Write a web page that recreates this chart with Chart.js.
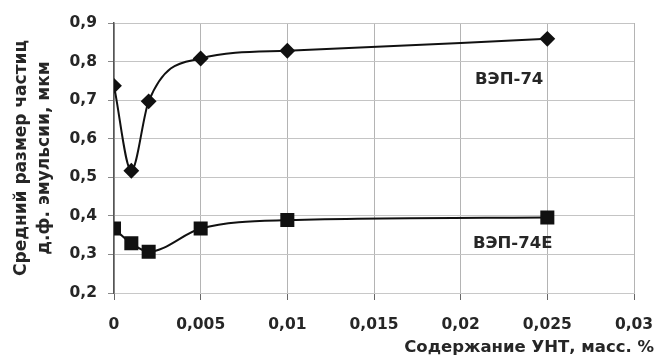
<!DOCTYPE html>
<html>
<head>
<meta charset="utf-8">
<script src="https://cdn.jsdelivr.net/npm/chart.js@4"></script>
<style>
  html, body { margin: 0; padding: 0; background: #fff; }
  #wrap { width: 656px; height: 356px; }
</style>
</head>
<body>
<div id="wrap"><canvas id="chart"></canvas></div>
<script>
// Data
const concentration = [0, 0.001, 0.002, 0.005, 0.01, 0.025];
const vep74 = [0.737, 0.517, 0.697, 0.808, 0.828, 0.859];
const vep74e = [0.367, 0.329, 0.307, 0.367, 0.389, 0.396];

const xTicks = [0, 0.005, 0.01, 0.015, 0.02, 0.025, 0.03];
const xTickLabels = ['0', '0,005', '0,01', '0,015', '0,02', '0,025', '0,03'];
const yTicks = [0.2, 0.3, 0.4, 0.5, 0.6, 0.7, 0.8, 0.9];
const yTickLabels = ['0,2', '0,3', '0,4', '0,5', '0,6', '0,7', '0,8', '0,9'];

const seriesNames = ['ВЭП-74', 'ВЭП-74Е'];
// label anchor points in data units [x, y]
const seriesLabelPos = [[0.0228, 0.753], [0.0230, 0.328]];

const yTitle = ['Средний размер частиц', 'д.ф. эмульсии, мкм'];
const xTitle = 'Содержание УНТ, масс. %';

const FONT = 'DejaVu Sans';
const TEXT = '#262626';

const toPoints = (ys) => concentration.map((x, i) => ({ x: x, y: ys[i] }));

// draws the series labels and the x axis title
const textPlugin = {
    id: 'texts',
    afterDraw(chart) {
        const ctx = chart.ctx;
        const xs = chart.scales.x;
        const ys = chart.scales.y;
        ctx.save();
        ctx.fillStyle = TEXT;
        ctx.font = 'bold 16.5px "' + FONT + '"';
        ctx.textAlign = 'center';
        ctx.textBaseline = 'middle';
        seriesNames.forEach((name, i) => {
            const p = seriesLabelPos[i];
            ctx.fillText(name, xs.getPixelForValue(p[0]), ys.getPixelForValue(p[1]));
        });
        ctx.font = 'bold 16.5px "' + FONT + '"';
        ctx.textAlign = 'right';
        ctx.fillText(xTitle, chart.width - 2, 348);
        ctx.restore();
    }
};

const ctx = document.getElementById('chart').getContext('2d');
new Chart(ctx, {
    type: 'line',
    data: {
        datasets: [{
            label: seriesNames[0],
            data: toPoints(vep74),
            borderColor: '#111',
            backgroundColor: '#111',
            borderWidth: 2,
            cubicInterpolationMode: 'monotone',
            pointStyle: 'rectRot',
            pointRadius: 6.5,
            pointHoverRadius: 6.5
        }, {
            label: seriesNames[1],
            data: toPoints(vep74e),
            borderColor: '#111',
            backgroundColor: '#111',
            borderWidth: 2,
            cubicInterpolationMode: 'monotone',
            pointStyle: 'rect',
            pointRadius: 8.5,
            pointHoverRadius: 8.5
        }]
    },
    options: {
        responsive: true,
        maintainAspectRatio: false,
        animation: false,
        layout: { padding: { left: 0, right: 22, top: 23, bottom: 0 } },
        plugins: {
            legend: { display: false },
            tooltip: { enabled: false }
        },
        scales: {
            x: {
                type: 'linear',
                min: 0,
                max: 0.03,
                afterBuildTicks: (scale) => { scale.ticks = xTicks.map(v => ({ value: v })); },
                afterFit: (scale) => {
                    scale.height = 63;
                    scale.paddingLeft = 0;
                    scale.paddingRight = 0;
                },
                ticks: {
                    color: TEXT,
                    font: { family: FONT, size: 15.5, weight: 'bold' },
                    padding: 16,
                    maxRotation: 0,
                    callback: (v, i) => xTickLabels[i]
                },
                grid: {
                    color: '#b4b4b4',
                    tickColor: '#666',
                    tickLength: 7
                },
                border: { color: '#c8c8c8' }
            },
            y: {
                min: 0.2,
                max: 0.9,
                afterBuildTicks: (scale) => { scale.ticks = yTicks.map(v => ({ value: v })); },
                afterFit: (scale) => { scale.width = 114; },
                ticks: {
                    color: TEXT,
                    font: { family: FONT, size: 15.5, weight: 'bold' },
                    padding: 11,
                    callback: (v, i) => yTickLabels[i]
                },
                grid: {
                    color: '#c4c4c4',
                    tickColor: '#888',
                    tickLength: 6
                },
                border: { color: '#555', width: 1.5 },
                title: {
                    display: true,
                    text: yTitle,
                    color: TEXT,
                    font: { family: FONT, size: 17, weight: 'bold', lineHeight: 1.35 },
                    padding: { top: 10, bottom: 0 }
                }
            }
        }
    },
    plugins: [textPlugin]
});
</script>
</body>
</html>
